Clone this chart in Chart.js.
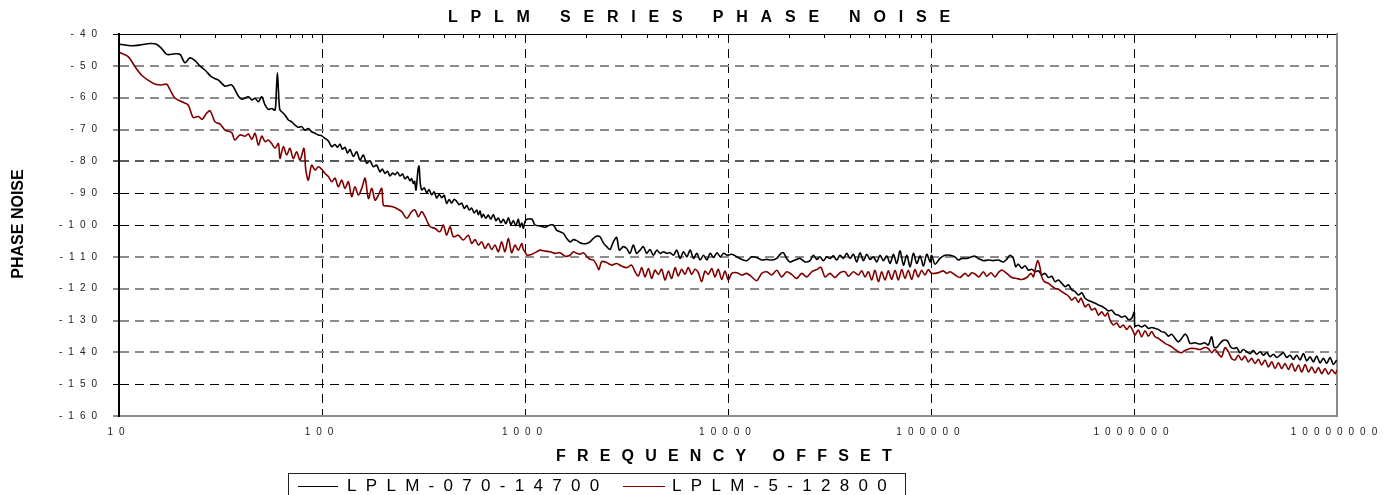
<!DOCTYPE html>
<html>
<head>
<meta charset="utf-8">
<script src="https://cdn.jsdelivr.net/npm/chart.js@4.4.1/dist/chart.umd.min.js"></script>
<style>
html,body{margin:0;padding:0;background:#fff;width:1393px;height:495px;overflow:hidden}
#wrap{position:relative;width:1393px;height:495px}
#c{position:absolute;left:0;top:0}
.t{position:absolute;font-family:"Liberation Sans",Arial,sans-serif;white-space:nowrap;color:#000}
#title{left:448px;top:7px;font-weight:bold;font-size:16px;letter-spacing:12.8px;line-height:20px}
#xtitle{left:556px;top:446px;font-weight:bold;font-size:16px;letter-spacing:11.2px;line-height:20px}
#ytitle{left:-42.5px;top:214px;width:120px;height:20px;line-height:20px;text-align:center;font-weight:bold;font-size:16px;transform:rotate(-90deg);transform-origin:60px 10px}
#legbox{position:absolute;left:288px;top:473px;width:618px;height:40px;border:1px solid #222;box-sizing:border-box}
.lline{position:absolute;height:1px}
.ltext{position:absolute;font-family:"Liberation Sans",Arial,sans-serif;font-size:17px;letter-spacing:9.3px;line-height:20px;white-space:nowrap;color:#000}
</style>
</head>
<body>
<div id="wrap">
<canvas id="c" width="1393" height="495"></canvas>
<div class="t" id="title">LPLM SERIES PHASE NOISE</div>
<div class="t" id="xtitle">FREQUENCY OFFSET</div>
<div class="t" id="ytitle">PHASE NOISE</div>
<div id="legbox"></div>
<div class="lline" id="l1" style="left:298px;top:486px;width:40px"></div>
<div class="ltext" id="t1" style="left:347px;top:476px"></div>
<div class="lline" id="l2" style="left:623px;top:486px;width:42px"></div>
<div class="ltext" id="t2" style="left:672px;top:476px"></div>
</div>
<script>
// ---- data ----
const seriesNames = ['LPLM-070-14700', 'LPLM-5-12800'];
const seriesColors = ['#000000', '#800000'];

const xDecadeTicks = [10, 100, 1000, 10000, 100000, 1000000, 10000000];
const yTickValues = [-160, -150, -140, -130, -120, -110, -100, -90, -80, -70, -60, -50, -40];

const blackFreq = [
 10.1, 11.5, 12.9, 14.2, 15.3, 16.2, 17.2, 18.9, 20.0, 21.1,
 22.4, 23.7, 25.1, 26.5, 28.6, 30.9, 33.3, 35.9, 38.7, 40.2,
 43.4, 45.1, 46.8, 48.6, 50.5, 52.4, 54.4, 56.5, 58.7, 59.6,
 60.3, 61.0, 61.9, 63.3, 65.8, 68.3, 70.9, 73.6, 76.4, 79.4,
 82.4, 85.6, 88.9, 92.4, 96.0, 99.7, 103.5, 107.5, 111.6, 115.9,
 119.0, 122.8, 126.0, 129.8, 133.5, 137.5, 142.7, 148.2, 153.9, 159.8,
 166.0, 172.3, 179.0, 185.9, 193.0, 198.0, 204.4, 210.2, 216.3, 222.6,
 229.0, 235.5, 242.3, 249.3, 256.5, 263.8, 271.2, 276.4, 281.6, 286.0,
 290.4, 297.1, 300.6, 304.9, 309.9, 318.7, 327.9, 337.2, 346.8, 356.8,
 367.1, 377.7, 388.6, 399.8, 411.3, 423.1, 435.3, 447.9, 461.0, 474.3,
 487.9, 502.0, 516.4, 531.2, 546.3, 562.0, 578.2, 589.1, 600.3, 611.9,
 623.7, 641.3, 659.5, 678.6, 698.2, 718.4, 739.2, 760.4, 782.3, 805.0,
 828.2, 851.5, 875.6, 900.8, 926.8, 945.0, 963.5, 981.6, 1000,
 1024, 1083, 1120, 1186, 1255, 1328, 1378, 1432, 1487, 1545,
 1604, 1666, 1731, 1798, 1867, 1939, 2014, 2091, 2172, 2256,
 2341, 2432, 2525, 2623, 2723, 2828, 2914, 3048, 3167, 3289,
 3417, 3548, 3686, 3828, 3976, 4130, 4290, 4456, 4628, 4807,
 4993, 5186, 5386, 5594, 5811, 6035, 6268, 6510, 6762, 7023,
 7295, 7576, 7869, 8174, 8490, 8818, 9159, 9513, 9881, 10432,
 11050, 11700, 12370, 13090, 13850, 14660, 15520, 16420, 17380, 18040,
 18730, 19450, 20200, 21390, 22630, 23950, 25350, 26330, 27350, 28400,
 29500, 30640, 31820, 33050, 34320, 35650, 37020, 38450, 39930, 41470,
 43070, 44730, 46460, 48250, 50110, 52040, 54050, 56130, 58300, 60550,
 62880, 65300, 67820, 70440, 73160, 75980, 78910, 81950, 85110, 88390,
 91800, 95340, 99020, 100700, 104700, 110700, 117200, 124100, 131300, 136400,
 141600, 150000, 158600, 164800, 171100, 181200, 191600, 202900, 214600, 227100,
 235900, 245000, 254400, 261400, 269200, 279900, 290500, 301700, 313400, 325400,
 338000, 351100, 364600, 378700, 393300, 408400, 424200, 440600, 457600, 475200,
 493500, 512600, 532300, 552900, 574200, 596300, 619300, 643200, 667900, 693700,
 720400, 748200, 777000, 806900, 838000, 870300, 903800, 938600, 974800, 1003000,
 1011000, 1050000, 1091000, 1133000, 1176000, 1222000, 1269000, 1318000, 1369000, 1422000,
 1476000, 1533000, 1592000, 1653000, 1717000, 1783000, 1832000, 1889000, 1996000, 2113000,
 2236000, 2323000, 2413000, 2477000, 2553000, 2652000, 2755000, 2882000, 2995000, 3110000,
 3206000, 3328000, 3456000, 3590000, 3729000, 3873000, 4022000, 4177000, 4338000, 4506000,
 4679000, 4859000, 5047000, 5241000, 5443000, 5653000, 5871000, 6097000, 6332000, 6576000,
 6830000, 7093000, 7366000, 7650000, 7945000, 8251000, 8569000, 8899000, 9242000, 9598000,
 9968000
];
const blackDb = [
 -43.2, -43.7, -43.4, -43.0, -43.2, -44.5, -46.4, -46.2, -46.4, -49.0,
 -47.5, -48.4, -50.1, -51.3, -53.5, -54.5, -56.4, -56.0, -59.5, -60.5,
 -59.7, -60.7, -60.2, -61.3, -59.7, -62.3, -63.7, -63.4, -63.9, -57.6,
 -52.2, -57.6, -63.7, -64.4, -65.5, -67.0, -67.6, -68.6, -69.3, -69.1,
 -70.2, -69.7, -70.7, -71.2, -71.7, -72.0, -72.8, -73.6, -75.4, -74.7,
 -75.6, -74.6, -76.2, -75.6, -77.4, -76.3, -78.5, -77.0, -79.6, -78.0,
 -80.6, -79.8, -81.7, -81.2, -83.3, -82.4, -83.8, -83.1, -84.6, -83.7,
 -84.2, -83.4, -84.6, -84.0, -85.5, -84.8, -86.1, -85.4, -86.9, -86.3,
 -89.0, -82.7, -81.5, -86.9, -89.0, -88.3, -89.8, -88.9, -90.5, -89.6,
 -91.5, -90.4, -91.4, -90.7, -93.2, -92.0, -93.1, -91.9, -92.6, -93.6,
 -93.1, -94.8, -93.9, -95.3, -94.7, -96.2, -95.3, -96.8, -95.6, -97.6,
 -96.6, -97.9, -96.9, -98.2, -96.7, -98.6, -97.8, -99.3, -98.2, -99.6,
 -97.7, -99.9, -98.6, -100.2, -98.2, -100.6, -99.4, -101.0, -98.9,
 -98.2, -98.2, -100.0, -100.3, -100.7, -100.0, -100.0, -101.6, -102.1, -102.6,
 -104.2, -105.3, -104.6, -104.9, -105.6, -105.9, -105.8, -105.3, -104.2, -103.5,
 -103.7, -105.6, -106.8, -107.7, -105.3, -103.9, -107.9, -106.8, -107.4, -108.9,
 -106.3, -108.9, -107.9, -106.8, -108.9, -107.7, -109.5, -107.9, -108.9, -108.4,
 -108.9, -108.7, -109.5, -107.9, -110.5, -108.4, -110.0, -107.9, -110.5, -108.9,
 -111.0, -109.5, -111.0, -108.9, -110.2, -108.7, -110.0, -108.9, -109.5, -109.2,
 -110.0, -110.8, -111.2, -110.0, -110.2, -111.0, -110.8, -111.0, -110.5, -109.2,
 -108.7, -110.5, -111.6, -111.0, -110.5, -111.6, -111.2, -109.5, -110.8, -110.0,
 -111.2, -110.0, -110.5, -109.7, -111.0, -109.5, -110.5, -108.9, -110.5, -109.2,
 -111.6, -108.7, -111.2, -109.2, -110.8, -110.0, -111.6, -109.5, -111.2, -109.7,
 -112.1, -109.2, -112.1, -108.1, -112.6, -109.5, -113.1, -108.9, -112.1, -109.7,
 -112.9, -109.2, -111.6, -109.5, -112.3, -110.5, -109.5, -109.5, -110.0, -111.0,
 -110.5, -110.5, -110.0, -109.8, -110.5, -111.2, -111.0, -111.2, -111.0, -111.6,
 -110.8, -109.5, -110.5, -113.1, -112.3, -113.6, -112.8, -114.2, -113.9, -114.7,
 -114.4, -115.7, -115.2, -116.5, -116.1, -117.8, -117.3, -118.3, -119.4, -118.8,
 -120.4, -120.9, -122.0, -121.3, -123.0, -123.7, -124.1, -124.6, -125.1, -125.5,
 -126.2, -127.0, -126.8, -128.0, -128.3, -129.0, -128.6, -129.7, -129.3, -127.3,
 -131.7, -131.5, -132.0, -131.5, -132.5, -132.2, -132.5, -132.8, -133.5, -133.8,
 -134.9, -134.3, -135.6, -136.7, -135.6, -134.3, -135.1, -137.2, -137.0, -137.4,
 -137.0, -137.7, -135.1, -138.3, -138.5, -137.2, -136.2, -136.4, -138.3, -138.8,
 -138.5, -140.1, -139.1, -139.8, -140.4, -139.4, -140.6, -139.8, -140.9, -140.1,
 -141.4, -140.6, -141.6, -140.9, -140.1, -141.6, -140.9, -142.2, -140.9, -142.4,
 -140.4, -142.7, -141.4, -143.0, -141.2, -143.3, -141.9, -143.5, -141.6, -143.8,
 -142.4
];

const redFreq = [
 10.1, 11.1, 12.0, 12.9, 13.9, 15.0, 16.2, 17.2, 17.8, 18.9,
 20.4, 21.9, 23.2, 24.6, 25.7, 27.0, 28.1, 29.7, 31.5, 33.3,
 35.9, 37.2, 39.4, 41.8, 43.4, 45.1, 46.8, 48.6, 50.5, 52.4,
 54.4, 56.5, 58.7, 61.0, 62.1, 64.5, 67.0, 69.5, 72.2, 75.0,
 77.9, 81.5, 83.2, 85.6, 88.9, 92.4, 96.0, 99.7, 103.5, 107.5,
 111.6, 115.9, 120.3, 125.0, 129.8, 134.9, 140.0, 145.4, 151.0, 156.9,
 163.0, 169.3, 175.9, 182.6, 189.6, 196.9, 200.6, 208.4, 220.4, 233.4,
 247.0, 261.4, 276.6, 287.4, 298.4, 309.9, 321.7, 340.4, 360.4, 381.2,
 396.0, 411.3, 427.3, 443.7, 469.3, 496.6, 526.0, 546.3, 567.5, 589.2,
 612.2, 635.5, 659.5, 685.5, 711.6, 739.2, 767.4, 796.7, 828.2, 859.0,
 893.1, 926.8, 963.5, 980, 1000, 1024, 1083, 1143, 1186, 1255,
 1328, 1405, 1487, 1574, 1666, 1731, 1798, 1867, 1939, 2014,
 2091, 2172, 2256, 2313, 2386, 2525, 2672, 2828, 2993, 3167,
 3350, 3483, 3614, 3758, 3900, 4055, 4209, 4366, 4539, 4710,
 4898, 5082, 5280, 5483, 5689, 5916, 6138, 6368, 6622, 6871,
 7145, 7413, 7709, 7998, 8318, 8630, 8954, 9311, 9661, 10040,
 10432, 11050, 11700, 12370, 13090, 13850, 14660, 15520, 16420, 17380,
 18380, 19450, 20590, 21790, 23070, 24420, 25850, 27350, 28710, 30060,
 31820, 33660, 35650, 37700, 39170, 41470, 43860, 45600, 47320, 49160,
 51050, 52970, 55080, 57150, 59300, 61660, 63970, 66520, 69020, 71780,
 74470, 77270, 80350, 83370, 86500, 89950, 93330, 97050, 100700, 108700,
 115000, 119400, 124100, 131300, 139000, 146900, 152700, 158600, 164800, 172200,
 181200, 188100, 197600, 206600, 216200, 224500, 235900, 249900, 264400, 279900,
 296000, 310900, 319500, 328200, 335800, 343600, 351100, 361500, 378700, 393300,
 408400, 424200, 440600, 457600, 475200, 493500, 512600, 532300, 548600, 574200,
 596300, 619300, 643200, 667900, 693700, 720400, 741900, 762300, 791300, 822400,
 853100, 885200, 920100, 955000, 993100, 1011000, 1050000, 1091000, 1133000, 1176000,
 1222000, 1269000, 1318000, 1369000, 1422000, 1476000, 1533000, 1592000, 1653000, 1717000,
 1783000, 1889000, 1996000, 2113000, 2236000, 2323000, 2413000, 2506000, 2602000, 2703000,
 2806000, 2914000, 3027000, 3144000, 3265000, 3392000, 3522000, 3658000, 3800000, 3946000,
 4099000, 4257000, 4421000, 4592000, 4769000, 4953000, 5144000, 5342000, 5548000, 5762000,
 5985000, 6216000, 6456000, 6705000, 6963000, 7232000, 7511000, 7800000, 8101000, 8414000,
 8738000, 9075000, 9425000, 9788000, 10000000
];
const redDb = [
 -45.8, -47.1, -50.3, -52.9, -54.5, -55.7, -56.0, -55.8, -57.4, -60.2,
 -61.3, -62.3, -66.2, -65.9, -66.8, -64.9, -64.1, -67.6, -68.3, -70.2,
 -71.0, -73.3, -71.7, -72.1, -71.4, -73.1, -71.2, -74.9, -72.1, -73.8,
 -73.3, -74.4, -75.9, -74.4, -79.1, -75.4, -78.0, -75.9, -79.1, -77.0,
 -79.6, -75.9, -82.7, -85.9, -81.2, -82.7, -81.7, -82.5, -83.8, -84.8,
 -86.4, -85.3, -88.0, -85.9, -88.5, -86.4, -91.1, -88.0, -90.6, -88.5,
 -85.3, -91.7, -88.5, -92.2, -90.6, -88.5, -93.8, -94.0, -94.2, -94.8,
 -95.8, -97.9, -95.8, -95.3, -97.4, -95.8, -97.4, -100.5, -101.1, -102.1,
 -100.0, -103.2, -100.5, -103.7, -103.2, -104.7, -103.2, -105.8, -104.6, -106.3,
 -105.3, -107.4, -105.8, -107.7, -106.3, -108.4, -105.3, -108.4, -104.2, -108.7,
 -106.3, -107.9, -105.8, -107.6, -108.4, -109.5, -109.2, -108.4, -107.9, -108.2,
 -108.4, -108.9, -108.7, -109.8, -109.5, -108.4, -108.9, -109.2, -108.7, -109.8,
 -110.8, -111.0, -112.6, -114.0, -111.5, -111.8, -112.6, -112.1, -112.9, -113.4,
 -112.6, -114.7, -116.0, -113.4, -116.3, -113.7, -116.8, -114.2, -115.5, -113.9,
 -117.3, -114.5, -116.8, -113.4, -116.0, -113.9, -115.5, -113.4, -115.5, -113.9,
 -115.0, -117.8, -114.5, -115.5, -113.7, -116.3, -113.9, -117.1, -114.5, -117.3,
 -115.2, -115.0, -115.7, -115.2, -116.3, -117.5, -115.2, -114.7, -115.7, -114.2,
 -116.3, -114.7, -115.5, -116.8, -115.2, -116.3, -114.7, -114.0, -113.3, -116.3,
 -115.2, -116.5, -115.0, -114.7, -116.1, -114.7, -115.7, -114.4, -116.3, -114.7,
 -117.3, -114.2, -117.8, -114.7, -117.3, -114.4, -117.1, -114.2, -117.3, -114.0,
 -116.8, -114.2, -117.1, -114.0, -116.3, -114.2, -115.7, -114.0, -115.2, -115.0,
 -114.4, -115.2, -114.7, -115.7, -116.5, -115.2, -116.1, -115.0, -115.4, -116.3,
 -114.7, -116.1, -115.0, -116.3, -114.7, -114.2, -115.2, -116.5, -116.8, -117.1,
 -116.5, -115.2, -116.3, -113.1, -111.2, -113.1, -116.3, -117.8, -118.3, -119.2,
 -119.9, -120.2, -120.9, -121.6, -122.3, -123.6, -122.7, -124.3, -123.0, -125.7,
 -124.9, -126.7, -126.2, -128.3, -127.3, -128.6, -127.6, -129.9, -131.4, -130.8,
 -132.2, -131.4, -132.8, -131.7, -133.6, -134.6, -133.0, -135.1, -133.2, -134.9,
 -133.5, -135.1, -135.6, -136.4, -137.2, -137.7, -138.3, -139.1, -139.8, -140.1,
 -139.4, -138.8, -138.8, -139.1, -138.5, -138.8, -140.1, -139.1, -140.4, -141.4,
 -138.5, -139.8, -141.9, -142.4, -140.9, -142.4, -141.2, -143.0, -141.9, -143.5,
 -142.2, -144.0, -142.4, -144.6, -143.0, -145.1, -143.3, -145.1, -143.5, -145.4,
 -143.5, -145.9, -144.0, -146.2, -143.8, -146.2, -144.6, -146.5, -144.8, -146.7,
 -145.1, -146.9, -145.4, -146.7, -145.6
];

// ---- legend (HTML) ----
document.getElementById('l1').style.background = seriesColors[0];
document.getElementById('l2').style.background = seriesColors[1];
document.getElementById('t1').textContent = seriesNames[0];
document.getElementById('t2').textContent = seriesNames[1];

// ---- styles ----
const FONT = '"Liberation Sans", Arial, sans-serif';
const darkGrid = [-90, -100, -150];
const midGrid = [-80];
function yGridColor(c) {
  const v = c.tick && c.tick.value;
  if (v === -40 || v === -160) return 'rgba(0,0,0,0)';
  if (darkGrid.includes(v)) return '#000000';
  if (midGrid.includes(v)) return '#5a5a5a';
  return '#8c8c8c';
}
function yGridWidth(c) {
  const v = c.tick && c.tick.value;
  if (darkGrid.includes(v) || v === -40) return 1;
  return 2;
}
function yTickColor(c) {
  const v = c.tick && c.tick.value;
  if (darkGrid.includes(v) || v === -40) return '#000000';
  if (midGrid.includes(v)) return '#5a5a5a';
  return '#8c8c8c';
}

const spacingPlugin = {
  id: 'letterSpacing',
  beforeDraw(chart) {
    try { chart.ctx.letterSpacing = '6px'; } catch (e) {}
  }
};

const toPoints = (fs, ds) => fs.map((f, i) => ({x: f, y: ds[i]}));

new Chart(document.getElementById('c'), {
  type: 'line',
  data: {
    datasets: [
      {
        label: seriesNames[0],
        data: toPoints(blackFreq, blackDb),
        borderColor: seriesColors[0],
        borderWidth: 1.6,
        pointRadius: 0,
        tension: 0.3,
        fill: false,
        order: 1,
        xAxisID: 'x', yAxisID: 'y'
      },
      {
        label: seriesNames[1],
        data: toPoints(redFreq, redDb),
        borderColor: seriesColors[1],
        borderWidth: 1.6,
        pointRadius: 0,
        tension: 0.3,
        fill: false,
        order: 0,
        xAxisID: 'x', yAxisID: 'y'
      }
    ]
  },
  options: {
    responsive: false,
    devicePixelRatio: 1,
    animation: false,
    events: [],
    layout: { padding: { top: 34, right: 56, bottom: 0, left: 0 } },
    plugins: {
      legend: { display: false },
      title: { display: false },
      tooltip: { enabled: false }
    },
    scales: {
      x: {
        type: 'logarithmic',
        position: 'bottom',
        min: 10, max: 10000000,
        afterBuildTicks: s => { s.ticks = xDecadeTicks.map(v => ({value: v, major: true})); },
        afterFit: s => { s.height = 79; },
        border: { display: true, color: '#8c8c8c', width: 2, dash: [9, 6] },
        grid: {
          drawTicks: false,
          color: c => (c.tick && (c.tick.value === 10 || c.tick.value === 10000000)) ? 'rgba(0,0,0,0)' : '#000000',
          lineWidth: 1
        },
        ticks: {
          autoSkip: false, maxRotation: 0, minRotation: 0,
          padding: 10,
          color: '#222222',
          font: { family: FONT, size: 10 },
          callback: v => String(v)
        }
      },
      x2: {
        type: 'logarithmic',
        position: 'top',
        min: 10, max: 10000000,
        afterBuildTicks: s => {
          s.ticks = s.ticks.filter(t => {
            const e = Math.floor(Math.log10(t.value) + 1e-9);
            const m = t.value / Math.pow(10, e);
            return Math.abs(m - Math.round(m)) < 1e-6 && Math.round(m) >= 2 && Math.round(m) <= 9;
          });
        },
        afterFit: s => { s.height = 0; },
        border: { display: true, color: '#000000', width: 1 },
        grid: { drawOnChartArea: false, drawTicks: true, tickLength: -4, color: '#000000', lineWidth: 1 },
        ticks: { display: false }
      },
      y: {
        type: 'linear',
        position: 'left',
        min: -160, max: -40,
        afterBuildTicks: s => { s.ticks = yTickValues.map(v => ({value: v})); },
        afterFit: s => { s.width = 119; },
        border: { display: true, color: '#000000', width: 2, dash: [9, 6] },
        grid: {
          color: yGridColor,
          lineWidth: yGridWidth,
          tickColor: yTickColor,
          tickLength: 6,
          drawTicks: true
        },
        ticks: {
          padding: 10,
          color: '#222222',
          font: { family: FONT, size: 10 },
          callback: v => String(v)
        }
      },
      y2: {
        type: 'linear',
        position: 'right',
        min: -160, max: -40,
        afterFit: s => { s.width = 0; },
        border: { display: true, color: '#8c8c8c', width: 2 },
        grid: { drawOnChartArea: false, drawTicks: false },
        ticks: { display: false }
      }
    }
  },
  plugins: [spacingPlugin]
});
</script>
</body>
</html>
